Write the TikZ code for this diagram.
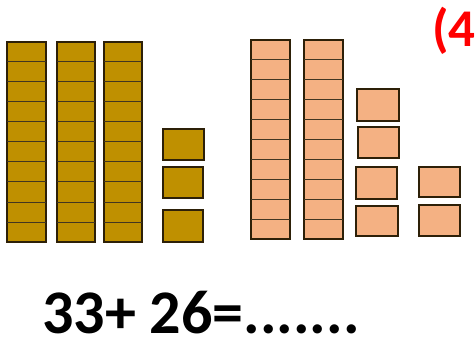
\documentclass[tikz,border=0pt]{standalone}
\usepackage{fontspec}
\setmainfont{Carlito}
\definecolor{tengold}{RGB}{191,144,0}
\definecolor{unitpeach}{RGB}{244,177,131}
\definecolor{edgebrown}{RGB}{45,32,8}
\definecolor{labelred}{RGB}{255,0,0}

\begin{document}
\begin{tikzpicture}[x=1pt,y=-1pt]
\useasboundingbox (0,0) rectangle (476,339);

\tikzstyle{rod}=[draw=edgebrown,line width=1.6pt]
\tikzstyle{cell}=[draw=edgebrown!90,line width=1pt]

% 33: three tens and three ones
\foreach \xa/\xb in {7/46,57/95,104/142}{
  \filldraw[rod,fill=tengold] (\xa,42) rectangle (\xb,242);
  \foreach \k in {1,...,9} \draw[cell] (\xa,42+20*\k) -- (\xb,42+20*\k);
}
\filldraw[rod,fill=tengold] (163,129) rectangle (204,160);
\filldraw[rod,fill=tengold] (163,167) rectangle (203,198);
\filldraw[rod,fill=tengold] (163,210) rectangle (203,242);

% 26: two tens and six ones
\foreach \xa/\xb in {251/290,304/343}{
  \filldraw[rod,fill=unitpeach] (\xa,40) rectangle (\xb,239);
  \foreach \k in {1,...,9} \draw[cell] (\xa,40+19.9*\k) -- (\xb,40+19.9*\k);
}
\filldraw[rod,fill=unitpeach] (357,89) rectangle (399,121);
\filldraw[rod,fill=unitpeach] (358,127) rectangle (399,158);
\filldraw[rod,fill=unitpeach] (356,167) rectangle (397,199);
\filldraw[rod,fill=unitpeach] (356,206) rectangle (398,236);
\filldraw[rod,fill=unitpeach] (419,167) rectangle (460,197);
\filldraw[rod,fill=unitpeach] (419,205) rectangle (460,236);

\node (sum) [anchor=base west,inner sep=0pt,text depth=0pt,font=\fontsize{62}{70}\selectfont\bfseries] at (42,333) {33+ 26=.......};
\node (task) [anchor=base west,inner sep=0pt,text=labelred,font=\fontsize{53}{60}\selectfont\bfseries] at (432,47) {(4};

\end{tikzpicture}
\end{document}
